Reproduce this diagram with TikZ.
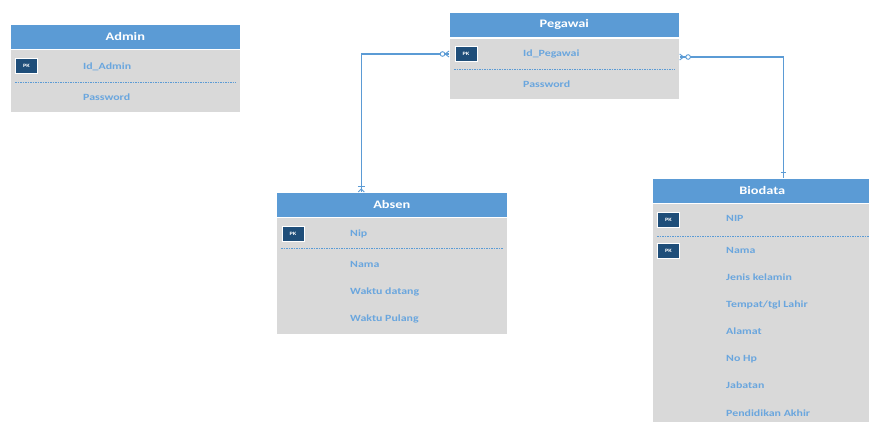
\documentclass[tikz,border=0pt]{standalone}
\usepackage{fontspec}
\setmainfont{Carlito}[FakeStretch=1.25]
\definecolor{hdrblue}{HTML}{5B9BD5}
\definecolor{bodygray}{HTML}{D9D9D9}
\definecolor{attrblue}{HTML}{6AA6DE}
\definecolor{pkblue}{HTML}{1F4E79}
\definecolor{lineblue}{HTML}{5B9BD5}
\begin{document}
\begin{tikzpicture}[x=1pt,y=-1pt,
  hdr/.style={fill=hdrblue, draw=white, line width=0.6pt, text=white,
    font=\bfseries\fontsize{11.5}{12}\selectfont, anchor=north west,
    inner sep=0, minimum height=25pt},
  bodybox/.style={fill=bodygray, draw=white, line width=0.6pt, anchor=north west, inner sep=0},
  attr/.style={text=attrblue, font=\bfseries\fontsize{9.5}{10}\selectfont,
    anchor=base west, inner sep=0},
  pk/.style={fill=pkblue, draw=white, line width=0.8pt, minimum width=22pt,
    minimum height=15pt, inner sep=0, text=white,
    font=\bfseries\fontsize{5}{5}\selectfont},
  sep/.style={draw=lineblue, dash pattern=on 1.5pt off 1pt, line width=0.6pt},
  rel/.style={draw=lineblue, line width=1.1pt},
  endmark/.style={draw=lineblue, line width=0.9pt}
]
\useasboundingbox[fill=white] (0,0) rectangle (869,421);

% ---------- Admin ----------
\node[hdr, minimum width=230pt] (adminH) at (10,24) {Admin};
\node[bodybox, minimum width=230pt, minimum height=63pt] (adminB) at (10,49) {};
\node[pk] (adminPK) at (26.5,66) {PK};
\node[attr] (adminA1) at (83,69.5) {Id\_Admin};
\draw[sep] ([xshift=5pt,yshift=-33pt]adminB.north west) -- ([xshift=-5pt,yshift=-33pt]adminB.north east);
\node[attr] (adminA2) at (83,100.5) {Password};

% ---------- Pegawai ----------
\node[hdr, minimum width=230pt] (pegH) at (449,12) {Pegawai};
\node[bodybox, minimum width=230pt, minimum height=61pt] (pegB) at (449,38) {};
\node[pk] (pegPK) at (466,54) {PK};
\node[attr] (pegA1) at (523,56.5) {Id\_Pegawai};
\draw[sep] ([xshift=5pt,yshift=-31pt]pegB.north west) -- ([xshift=-5pt,yshift=-31pt]pegB.north east);
\node[attr] (pegA2) at (523,87.5) {Password};

% ---------- Absen ----------
\node[hdr, minimum width=231pt] (absH) at (276,192) {Absen};
\node[bodybox, minimum width=231pt, minimum height=117pt] (absB) at (276,217) {};
\node[pk] (absPK) at (293,233.5) {PK};
\node[attr] (absA1) at (350,236.5) {Nip};
\draw[sep] ([xshift=5pt,yshift=-31pt]absB.north west) -- ([xshift=-5pt,yshift=-31pt]absB.north east);
\node[attr] (absA2) at (350,267.5) {Nama};
\node[attr] (absA3) at (350,294.5) {Waktu datang};
\node[attr] (absA4) at (350,321.5) {Waktu Pulang};

% ---------- Biodata ----------
\node[hdr, minimum width=230pt] (bioH) at (652,178) {\hspace*{-10pt}Biodata};
\node[bodybox, minimum width=230pt, minimum height=240pt] (bioB) at (652,203) {};
\node[pk] (bioPK1) at (668.5,219.5) {PK};
\node[attr] (bioA1) at (726,221.5) {NIP};
\draw[sep] ([xshift=5pt,yshift=-33pt]bioB.north west) -- ([xshift=-5pt,yshift=-33pt]bioB.north east);
\node[pk] (bioPK2) at (668.5,250.5) {PK};
\node[attr] (bioA2) at (726,253.5) {Nama};
\node[attr] (bioA3) at (726,280.5) {Jenis kelamin};
\node[attr] (bioA4) at (726,307.5) {Tempat/tgl Lahir};
\node[attr] (bioA5) at (726,334.5) {Alamat};
\node[attr] (bioA6) at (726,361.5) {No Hp};
\node[attr] (bioA7) at (726,388.5) {Jabatan};
\node[attr] (bioA8) at (726,416.5) {Pendidikan Akhir};

% ---------- Relationships ----------
\coordinate (pL) at (pegB.west |- pegPK.center);
\coordinate (pR) at ([yshift=-3pt]pegB.east |- pegPK.center);
\coordinate (aT) at ([xshift=-30.5pt]absH.north);
\coordinate (bT) at ([xshift=16pt]bioH.north);

\draw[rel] (pL) -| (aT);
\draw[rel] (pR) -| (bT);

% zero-or-many end at Pegawai (left)
\draw[endmark] ([shift={(-4,0)}]pL) -- ([shift={(0,-3)}]pL);
\draw[endmark] ([shift={(-4,0)}]pL) -- ([shift={(0,3)}]pL);
\draw[endmark, fill=white] ([shift={(-6.5,0)}]pL) circle[radius=2.3pt];
% zero-or-many end at Pegawai (right)
\draw[endmark] ([shift={(4,0)}]pR) -- ([shift={(0,-3)}]pR);
\draw[endmark] ([shift={(4,0)}]pR) -- ([shift={(0,3)}]pR);
\draw[endmark, fill=white] ([shift={(8.5,0)}]pR) circle[radius=2.3pt];
% one end at Absen
\draw[endmark] ([shift={(-3.5,-6)}]aT) -- ([shift={(3.5,-6)}]aT);
\draw[endmark] ([shift={(0,-3)}]aT) -- ([shift={(-3,0)}]aT);
\draw[endmark] ([shift={(0,-3)}]aT) -- ([shift={(3,0)}]aT);
% one end at Biodata
\draw[endmark] ([shift={(-2.5,-6)}]bT) -- ([shift={(2.5,-6)}]bT);
\end{tikzpicture}
\end{document}
